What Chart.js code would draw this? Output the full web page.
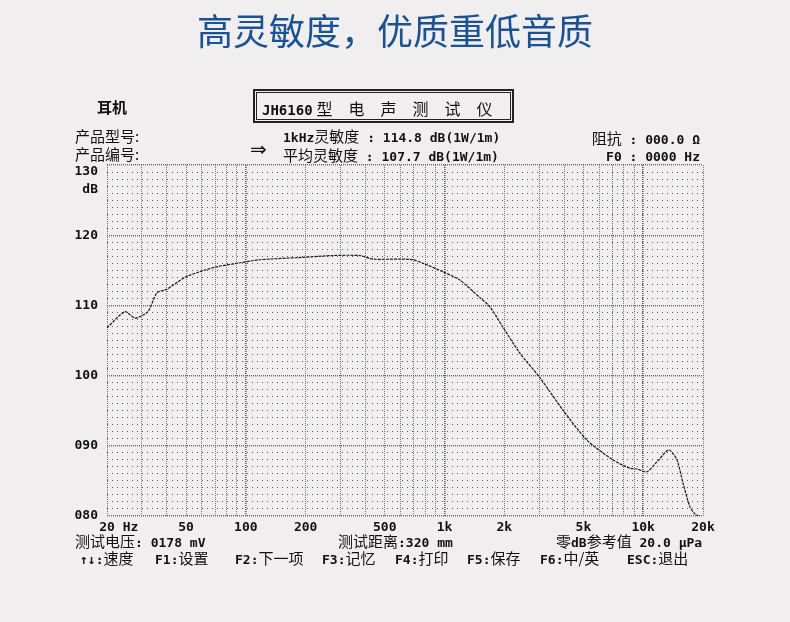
<!DOCTYPE html>
<html lang="zh">
<head>
<meta charset="UTF-8">
<title>耳机 频响曲线</title>
<script src="https://cdn.jsdelivr.net/npm/chart.js"></script>
<style>
  body { margin: 0; background: #f0eeee; }
  #wrap { position: relative; width: 790px; height: 622px; overflow: hidden; }
  #chart { position: absolute; left: 0; top: 0; }
  .t { position: absolute; white-space: pre; line-height: 18px; height: 18px; color: #111; }
  .m { font: bold 13px "DejaVu Sans Mono", "Liberation Mono", monospace; }
  .c { font: 15px "Noto Sans CJK SC", sans-serif; }
  .title { position: absolute; left: 0; width: 790px; top: 3px; text-align: center;
           font: 36px "Noto Sans CJK SC", sans-serif; color: #1a5292; }
  .box { position: absolute; left: 253px; top: 89px; width: 257px; height: 30px;
         border: 2px solid #222; }
  .box .in { position: absolute; left: 1px; top: 1px; right: 1px; bottom: 1px; border: 1px solid #222; }
</style>
</head>
<body>
<div id="wrap">
  <canvas id="chart" width="790" height="622"></canvas>

  <div class="title">高灵敏度，优质重低音质</div>

  <div class="box"><div class="in"></div></div>
  <div class="t" style="left:262px;top:96px"><span class="m" style="font-size:14px">JH6160</span> <span class="c" style="font-size:16px;letter-spacing:16px">型电声测试仪</span></div>

  <div class="t c" style="left:97px;top:96px;font-weight:bold">耳机</div>
  <div class="t c" style="left:75px;top:125px">产品型号:</div>
  <div class="t c" style="left:75px;top:143px">产品编号:</div>

  <div class="t" style="left:283px;top:125px"><span class="m">1kHz</span><span class="c">灵敏度</span><span class="m"> : 114.8 dB(1W/1m)</span></div>
  <div class="t" style="left:250px;top:137px;font:20px 'DejaVu Sans'">⇒</div>
  <div class="t" style="left:283px;top:144px"><span class="c">平均灵敏度</span><span class="m"> : 107.7 dB(1W/1m)</span></div>

  <div class="t" style="right:90px;top:127px"><span class="c">阻抗</span><span class="m"> : 000.0 Ω</span></div>
  <div class="t m" style="right:90px;top:149px">F0 : 0000 Hz</div>

  <div class="t m" style="right:692px;top:163px">130</div>
  <div class="t m" style="right:692px;top:181px">dB</div>

  <div class="t" style="left:75px;top:530px"><span class="c">测试电压</span><span class="m">: 0178 mV</span></div>
  <div class="t" style="left:338px;top:530px"><span class="c">测试距离</span><span class="m">:320 mm</span></div>
  <div class="t" style="left:556px;top:530px"><span class="c">零</span><span class="m">dB</span><span class="c">参考值</span><span class="m"> 20.0 μPa</span></div>

  <div class="t" style="left:80px;top:547px"><span class="m">↑↓:</span><span class="c">速度</span></div>
  <div class="t" style="left:155px;top:547px"><span class="m">F1:</span><span class="c">设置</span></div>
  <div class="t" style="left:235px;top:547px"><span class="m">F2:</span><span class="c">下一项</span></div>
  <div class="t" style="left:322px;top:547px"><span class="m">F3:</span><span class="c">记忆</span></div>
  <div class="t" style="left:395px;top:547px"><span class="m">F4:</span><span class="c">打印</span></div>
  <div class="t" style="left:467px;top:547px"><span class="m">F5:</span><span class="c">保存</span></div>
  <div class="t" style="left:540px;top:547px"><span class="m">F6:</span><span class="c">中/英</span></div>
  <div class="t" style="left:627px;top:547px"><span class="m">ESC:</span><span class="c">退出</span></div>
</div>

<script>
// frequency response
const freqs = [20, 24.6, 27.7, 32.1, 35.7, 40, 49.4, 58.6, 71.4, 90.4, 117, 194, 274, 375, 437, 596,
               694, 779, 981, 1196, 1507, 1693, 1968, 2395, 3021, 3944, 5213, 7041, 8571, 9290,
               10440, 11720, 13460, 14780, 15850, 17190, 18200, 19000];
const spl = [106.8, 109.1, 108.2, 109.1, 111.8, 112.3, 114.0, 114.8, 115.5, 116.0, 116.5, 116.85, 117.1, 117.1, 116.6, 116.6,
             116.5, 116.0, 114.8, 113.6, 111.1, 109.8, 106.9, 103.2, 99.7, 95.1, 90.8, 88.0, 86.8, 86.7,
             86.3, 87.7, 89.4, 88.0, 84.7, 81.3, 80.3, 80.0];

// vertical grid positions and the ones that get a label
const gridFreqs = [20, 30, 40, 50, 60, 70, 80, 90, 100, 200, 300, 400, 500, 600, 700, 800, 900,
                   1000, 2000, 3000, 4000, 5000, 6000, 7000, 8000, 9000, 10000, 20000];
const freqLabels = { 20: '   20 Hz', 50: '50', 100: '100', 200: '200', 500: '500', 1000: '1k',
                     2000: '2k', 5000: '5k', 10000: '10k', 20000: '20k' };
const dbMin = 80, dbMax = 130;

const tickFont = { family: 'DejaVu Sans Mono', size: 13, weight: 'bold' };

new Chart(document.getElementById('chart'), {
    type: 'line',
    data: {
        datasets: [{
            data: freqs.map((f, i) => ({ x: f, y: spl[i] })),
            borderColor: '#1a1a1a',
            borderWidth: 1.2,
            borderDash: [3, 1],
            pointRadius: 0,
            tension: 0.25,
            fill: false
        }]
    },
    options: {
        responsive: false,
        animation: false,
        layout: { padding: { left: 0, top: 165, right: 87, bottom: 86 } },
        plugins: { legend: { display: false }, tooltip: { enabled: false } },
        scales: {
            x: {
                type: 'logarithmic',
                min: 20,
                max: 20000,
                afterBuildTicks: s => { s.ticks = gridFreqs.map(v => ({ value: v })); },
                afterFit: s => { s.height = 20; },
                ticks: {
                    autoSkip: false,
                    maxRotation: 0,
                    padding: 4,
                    color: '#111',
                    font: tickFont,
                    callback: v => freqLabels[v] || ''
                },
                grid: {
                    drawTicks: false,
                    color: ctx => [100, 1000, 10000].includes(ctx.tick.value) ? '#555' : '#777',
                    lineWidth: ctx => [100, 1000, 10000].includes(ctx.tick.value) ? 1.6 : 1
                },
                border: { display: false, dash: [1, 1] }
            },
            y: {
                min: dbMin,
                max: dbMax,
                afterFit: s => { s.width = 107; },
                ticks: {
                    stepSize: 1,
                    autoSkip: false,
                    padding: 9,
                    color: '#111',
                    font: tickFont,
                    // top value is written under the frame edge, see the page text
                    callback: v => (v % 10 === 0 && v !== dbMax) ? String(v).padStart(3, '0') : ''
                },
                grid: {
                    drawTicks: false,
                    color: ctx => ctx.tick.value % 10 === 0 ? '#666' : '#5a5a5a',
                    lineWidth: ctx => ctx.tick.value % 10 === 0 ? 1.4 : 1
                },
                border: {
                    display: false,
                    dash: ctx => ctx.tick && ctx.tick.value % 10 === 0 ? [1, 1] : [1, 4]
                }
            }
        }
    }
});
</script>
</body>
</html>
